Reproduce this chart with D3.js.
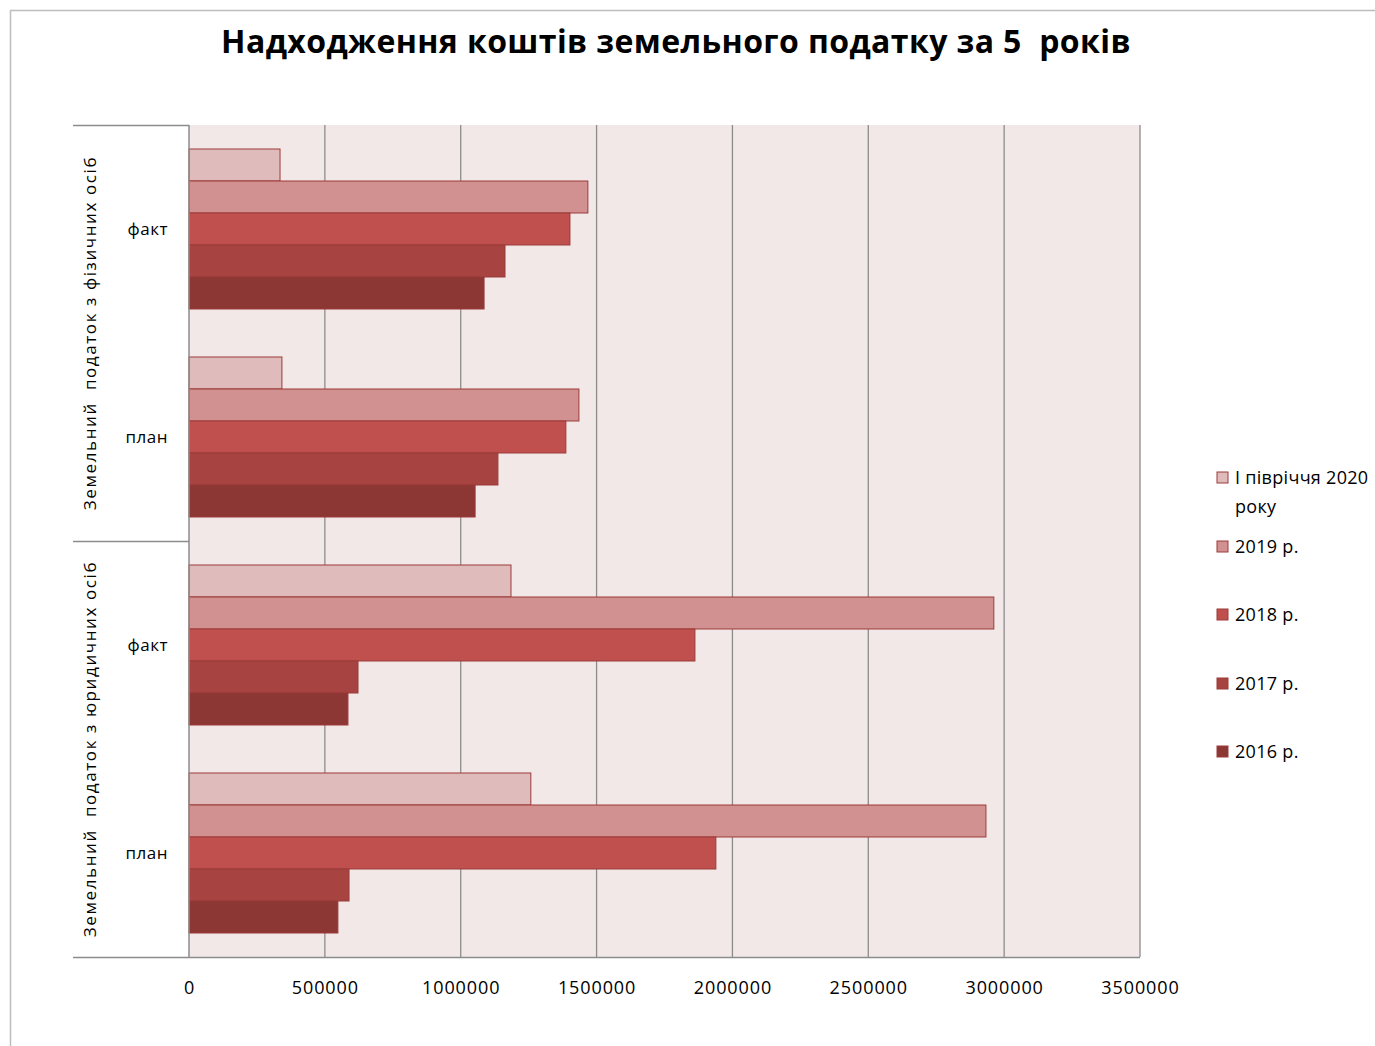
<!DOCTYPE html>
<html>
<head>
<meta charset="utf-8">
<script src="https://cdn.jsdelivr.net/npm/d3@7"></script>
<style>
  html, body { margin: 0; padding: 0; background: #fff; }
  svg { display: block; font-family: "Open Sans", "Noto Sans", sans-serif; }
  svg text { white-space: pre; }
</style>
</head>
<body>
<div id="chart"></div>
<script>
// Chart data
const groups = ["Земельний  податок з фізичних осіб", "Земельний  податок з юридичних осіб"];
const subCategories = ["факт", "план"];
const seriesNames = ["І півріччя 2020 року", "2019 р.", "2018 р.", "2017 р.", "2016 р."];
const seriesColors = ["#e0bbbb", "#d29191", "#c0504d", "#a74442", "#8d3735"];
// values per series: [фіз факт, фіз план, юр факт, юр план]
const values2020 = [335000, 342000, 1185000, 1258000];
const values2019 = [1468000, 1435000, 2962000, 2933000];
const values2018 = [1402000, 1387000, 1862000, 1939000];
const values2017 = [1163000, 1137000, 622000, 589000];
const values2016 = [1086000, 1053000, 585000, 548000];
const xTicks = [0, 500000, 1000000, 1500000, 2000000, 2500000, 3000000, 3500000];

const seriesValues = [values2020, values2019, values2018, values2017, values2016];
const rows = [];
groups.forEach((g, gi) => subCategories.forEach((s) => rows.push({ key: gi + "|" + s, group: gi, label: s })));

const width = 1375, height = 1046;
const plot = { left: 189, right: 1140, top: 125, bottom: 957 };

const svg = d3.select("#chart").append("svg")
  .attr("width", width)
  .attr("height", height);

// outer frame
svg.append("rect")
  .attr("x", 10.5).attr("y", 10.5)
  .attr("width", width + 20).attr("height", height + 20)
  .attr("fill", "none")
  .attr("stroke", "#bdbdbd")
  .attr("stroke-width", 1.5);

// title
svg.append("text")
  .attr("x", 676).attr("y", 53)
  .attr("text-anchor", "middle")
  .attr("font-size", "32px")
  .attr("font-weight", "bold")
  .attr("letter-spacing", "0.4px")
  .attr("fill", "#000")
  .text("Надходження коштів земельного податку за 5  років");

const x = d3.scaleLinear()
  .domain([0, 3500000])
  .range([plot.left, plot.right]);

const y = d3.scaleBand()
  .domain(rows.map(d => d.key))
  .range([plot.top, plot.bottom])
  .paddingInner(0).paddingOuter(0);

const yInner = d3.scaleBand()
  .domain(seriesNames)
  .range([0, y.bandwidth()])
  .paddingInner(0)
  .paddingOuter(0.75);

// plot background
svg.append("rect")
  .attr("x", plot.left).attr("y", plot.top)
  .attr("width", plot.right - plot.left).attr("height", plot.bottom - plot.top)
  .attr("fill", "#f2e8e8");

// gridlines
svg.append("g")
  .selectAll("line")
  .data(xTicks.slice(1))
  .join("line")
  .attr("x1", d => x(d)).attr("x2", d => x(d))
  .attr("y1", plot.top).attr("y2", plot.bottom)
  .attr("stroke", "#8c8c8c")
  .attr("stroke-width", 1.3);

// bars
seriesNames.forEach((name, si) => {
  svg.append("g")
    .selectAll("rect")
    .data(rows.map((r, ri) => ({ key: r.key, value: seriesValues[si][ri] })))
    .join("rect")
    .attr("x", x(0))
    .attr("y", d => y(d.key) + yInner(name))
    .attr("width", d => x(d.value) - x(0))
    .attr("height", yInner.bandwidth())
    .attr("fill", seriesColors[si])
    .attr("stroke", "#9b3b39")
    .attr("stroke-width", 1);
});

// x axis
const xAxis = svg.append("g")
  .attr("transform", `translate(0,${plot.bottom})`)
  .call(d3.axisBottom(x).tickValues(xTicks).tickFormat(d3.format("d")).tickSize(0).tickPadding(24));
xAxis.select(".domain").remove();
xAxis.selectAll("text")
  .attr("font-size", "18px")
  .attr("letter-spacing", "0.9px")
  .attr("font-family", "'Open Sans', sans-serif")
  .attr("fill", "#000");

const axisColor = "#8c8c8c";
// bottom axis line
svg.append("line")
  .attr("x1", 73).attr("x2", plot.right)
  .attr("y1", plot.bottom + 0.5).attr("y2", plot.bottom + 0.5)
  .attr("stroke", axisColor).attr("stroke-width", 1.5);
// left axis line
svg.append("line")
  .attr("x1", plot.left).attr("x2", plot.left)
  .attr("y1", plot.top).attr("y2", plot.bottom)
  .attr("stroke", axisColor).attr("stroke-width", 1.5);
// group separators
svg.append("g")
  .selectAll("line")
  .data([plot.top, y(rows[2].key)])
  .join("line")
  .attr("x1", 73).attr("x2", plot.left)
  .attr("y1", d => d + 0.5).attr("y2", d => d + 0.5)
  .attr("stroke", axisColor).attr("stroke-width", 1.5);

// inner category labels
svg.append("g")
  .selectAll("text")
  .data(rows)
  .join("text")
  .attr("x", 168)
  .attr("y", d => y(d.key) + y.bandwidth() / 2 + 6)
  .attr("text-anchor", "end")
  .attr("font-size", "17px")
  .attr("letter-spacing", "0.5px")
  .attr("fill", "#000")
  .text(d => d.label);

// outer group labels
svg.append("g")
  .selectAll("text")
  .data(groups)
  .join("text")
  .attr("transform", (d, i) => {
    const cy = (y(rows[i * 2].key) + y(rows[i * 2 + 1].key) + y.bandwidth()) / 2;
    return `translate(96,${cy}) rotate(-90)`;
  })
  .attr("text-anchor", "middle")
  .attr("font-size", "17px")
  .attr("letter-spacing", "1.6px")
  .attr("fill", "#000")
  .text(d => d);

// legend
const legendY = [478, 547, 615, 684, 752];
const legend = svg.append("g");
seriesNames.forEach((name, i) => {
  const g = legend.append("g").attr("transform", `translate(1217,${legendY[i]})`);
  g.append("rect")
    .attr("x", 0).attr("y", -6)
    .attr("width", 11).attr("height", 11)
    .attr("fill", seriesColors[i])
    .attr("stroke", "#9b3b39");
  const t = g.append("text")
    .attr("x", 18).attr("y", 6)
    .attr("font-size", "18px")
    .attr("letter-spacing", "0.3px")
    .attr("fill", "#000");
  if (i === 0) {
    t.append("tspan").attr("x", 18).text("І півріччя 2020");
    t.append("tspan").attr("x", 18).attr("dy", 29).text("року");
  } else {
    t.text(name);
  }
});
</script>
</body>
</html>
